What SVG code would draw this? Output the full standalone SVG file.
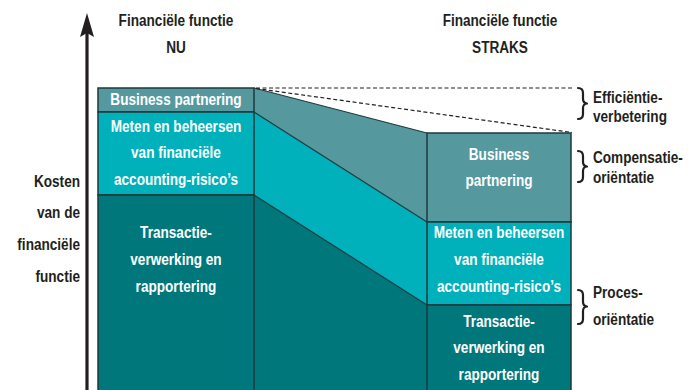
<svg xmlns="http://www.w3.org/2000/svg" width="692" height="390" viewBox="0 0 692 390">
  <defs>
    <style>
      .t { font-family: "Liberation Sans", Arial, sans-serif; font-size: 17px; font-weight: bold; }
      .dark { fill: #231f20; }
      .light { fill: #ffffff; text-anchor: middle; }
      .mid { text-anchor: middle; }
      .end { text-anchor: end; }
      .bp { fill: #55999f; }
      .mb { fill: #00b1bb; }
      .tv { fill: #00777b; }
      .edge { fill: none; stroke: #1d3a3e; stroke-width: 1.5; }
      .thin { fill: none; stroke: #1d3a3e; stroke-width: 1.2; }
      .dash { fill: none; stroke: #231f20; stroke-width: 1.2; stroke-dasharray: 4 2.5; }
      .brace { fill: none; stroke: #231f20; stroke-width: 2.2; stroke-linecap: round; stroke-linejoin: round; }
    </style>
  </defs>

  <!-- vertical cost axis; labels narrowed to 80% around their anchor x -->
  <g id="axis">
    <line x1="87" y1="30" x2="87" y2="390" stroke="#231f20" stroke-width="3.2"/>
    <path d="M87 13 L94 37 L87 33 L80 37 Z" fill="#231f20"/>
    <g transform="translate(16,0) scale(0.8,1)">
      <text class="t dark end" x="80" y="187">Kosten</text>
      <text class="t dark end" x="80" y="218">van de</text>
      <text class="t dark end" x="80" y="250">financiële</text>
      <text class="t dark end" x="80" y="282">functie</text>
    </g>
  </g>

  <!-- column headings -->
  <g id="heading-nu" transform="translate(35.2,0) scale(0.8,1)">
    <text class="t dark mid" x="176" y="26">Financiële functie</text>
    <text class="t dark mid" x="176" y="53">NU</text>
  </g>
  <g id="heading-straks" transform="translate(100,0) scale(0.8,1)">
    <text class="t dark mid" x="500" y="26">Financiële functie</text>
    <text class="t dark mid" x="500" y="53">STRAKS</text>
  </g>

  <!-- connecting bands between the two columns -->
  <g id="connectors">
    <polygon class="tv" points="254,195 427,305 427,390 254,390"/>
    <polygon class="mb" points="254,112 427,222 427,305 254,195"/>
    <polygon class="bp" points="254,88 427,133 427,222 254,112"/>
    <line class="thin" x1="254" y1="88" x2="427" y2="133"/>
    <line class="thin" x1="254" y1="112" x2="427" y2="222"/>
    <line class="thin" x1="254" y1="195" x2="427" y2="305"/>
    <line class="dash" x1="256" y1="88" x2="572" y2="88"/>
    <line class="dash" x1="256" y1="88.5" x2="572" y2="132.5"/>
  </g>

  <!-- current situation -->
  <g id="nu-business-partnering">
    <rect class="bp" x="98" y="88" width="156" height="24"/>
    <rect class="edge" x="98" y="88" width="156" height="24"/>
    <g transform="translate(35.2,0) scale(0.8,1)">
      <text class="t light" x="176" y="105">Business partnering</text>
    </g>
  </g>
  <g id="nu-meten-beheersen">
    <rect class="mb" x="98" y="112" width="156" height="83"/>
    <rect class="edge" x="98" y="112" width="156" height="83"/>
    <g transform="translate(35.2,0) scale(0.8,1)">
      <text class="t light" x="176" y="132">Meten en beheersen</text>
      <text class="t light" x="176" y="158">van financiële</text>
      <text class="t light" x="176" y="185">accounting-risico’s</text>
    </g>
  </g>
  <g id="nu-transactieverwerking">
    <rect class="tv" x="98" y="195" width="156" height="200"/>
    <rect class="edge" x="98" y="195" width="156" height="200"/>
    <g transform="translate(35.2,0) scale(0.8,1)">
      <text class="t light" x="176" y="238">Transactie-</text>
      <text class="t light" x="176" y="265">verwerking en</text>
      <text class="t light" x="176" y="292">rapportering</text>
    </g>
  </g>

  <!-- future situation -->
  <g id="straks-business-partnering">
    <rect class="bp" x="427" y="133" width="144" height="89"/>
    <rect class="edge" x="427" y="133" width="144" height="89"/>
    <g transform="translate(99.8,0) scale(0.8,1)">
      <text class="t light" x="499" y="160">Business</text>
      <text class="t light" x="499" y="186">partnering</text>
    </g>
  </g>
  <g id="straks-meten-beheersen">
    <rect class="mb" x="427" y="222" width="144" height="83"/>
    <rect class="edge" x="427" y="222" width="144" height="83"/>
    <g transform="translate(99.8,0) scale(0.8,1)">
      <text class="t light" x="499" y="238">Meten en beheersen</text>
      <text class="t light" x="499" y="265">van financiële</text>
      <text class="t light" x="499" y="292">accounting-risico’s</text>
    </g>
  </g>
  <g id="straks-transactieverwerking">
    <rect class="tv" x="427" y="305" width="144" height="90"/>
    <rect class="edge" x="427" y="305" width="144" height="90"/>
    <g transform="translate(99.8,0) scale(0.8,1)">
      <text class="t light" x="499" y="327">Transactie-</text>
      <text class="t light" x="499" y="353">verwerking en</text>
      <text class="t light" x="499" y="380">rapportering</text>
    </g>
  </g>

  <!-- effect labels with braces -->
  <g id="efficientie">
    <path class="brace" d="M578 88 Q583 88 583 93 L583 99 Q583 103 587 103.5 Q583 104 583 108 L583 114 Q583 119 578 119"/>
    <g transform="translate(118.6,0) scale(0.8,1)">
      <text class="t dark" x="593" y="103">Efficiëntie-</text>
      <text class="t dark" x="593" y="122">verbetering</text>
    </g>
  </g>
  <g id="compensatie">
    <path class="brace" d="M578 151 Q583 151 583 156 L583 162 Q583 166 587 166.5 Q583 167 583 171 L583 177 Q583 182 578 182"/>
    <g transform="translate(118.6,0) scale(0.8,1)">
      <text class="t dark" x="593" y="163">Compensatie-</text>
      <text class="t dark" x="593" y="183">oriëntatie</text>
    </g>
  </g>
  <g id="proces">
    <path class="brace" d="M578 290 Q583 290 583 295 L583 302 Q583 306 587 306.5 Q583 307 583 311 L583 319 Q583 324 578 324"/>
    <g transform="translate(118.6,0) scale(0.8,1)">
      <text class="t dark" x="593" y="298">Proces-</text>
      <text class="t dark" x="593" y="325">oriëntatie</text>
    </g>
  </g>
</svg>
